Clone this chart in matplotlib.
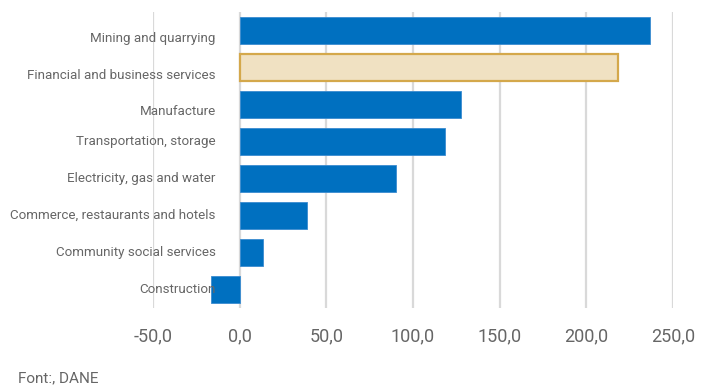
import matplotlib.pyplot as plt
import matplotlib.transforms as mtransforms
from matplotlib.ticker import FuncFormatter

plt.rcParams["font.family"] = ["Roboto", "DejaVu Sans"]

sectors = [
    "Mining and quarrying",
    "Financial and business services",
    "Manufacture",
    "Transportation, storage",
    "Electricity, gas and water",
    "Commerce, restaurants and hotels",
    "Community social services",
    "Construction",
]
values = [236.6, 218.1, 127.7, 118.5, 90.4, 39.0, 13.4, -16.5]
highlight = "Financial and business services"
x_ticks = [-50, 0, 50, 100, 150, 200, 250]

BLUE = "#0070C0"
SAND = "#F0E1C2"
SAND_EDGE = "#D4A84B"
TEXT = "#666666"
GRID = "#D9D9D9"

# the top three labels sit a bit low in the original
LABEL_NUDGE = [-8, -8, -7, 0, 0, 0, 0, 0]

fig = plt.figure(figsize=(7.15, 3.87), dpi=100)
ax = fig.add_axes([153 / 715, 1 - 308 / 387, (673 - 153) / 715, 296 / 387])

ypos = list(range(len(sectors)))
for y, name, v in zip(ypos, sectors, values):
    if name == highlight:
        ax.barh(y, v, height=0.71, color=SAND, edgecolor=SAND_EDGE, linewidth=1.6, zorder=3)
    else:
        ax.barh(y, v, height=0.71, color=BLUE, edgecolor="#3A8BD0", linewidth=0.6, zorder=3)

ax.set_xlim(-50, 250)
ax.set_ylim(len(sectors) - 0.5, -0.5)
ax.set_xticks(x_ticks)
ax.xaxis.set_major_formatter(FuncFormatter(lambda v, p: f"{v:.1f}".replace(".", ",")))
ax.tick_params(axis="x", length=0, pad=14, labelsize=13, labelcolor=TEXT)
ax.set_yticks([])
ax.grid(axis="x", color=GRID, linewidth=1.6, zorder=0)
for s in ax.spines.values():
    s.set_visible(False)

# category labels sit left of the zero line, not at the axes edge
for y, name, dy in zip(ypos, sectors, LABEL_NUDGE):
    tr = mtransforms.offset_copy(ax.transData, fig=fig, x=-24, y=dy, units="dots")
    ax.text(0, y, name, transform=tr, ha="right", va="center",
            fontsize=9.6, color=TEXT, zorder=4)

fig.text(18 / 715, 1 - 378 / 387, "Font:, DANE", ha="left", va="center",
         fontsize=11, color=TEXT)

fig.savefig("out.png", dpi=100)
